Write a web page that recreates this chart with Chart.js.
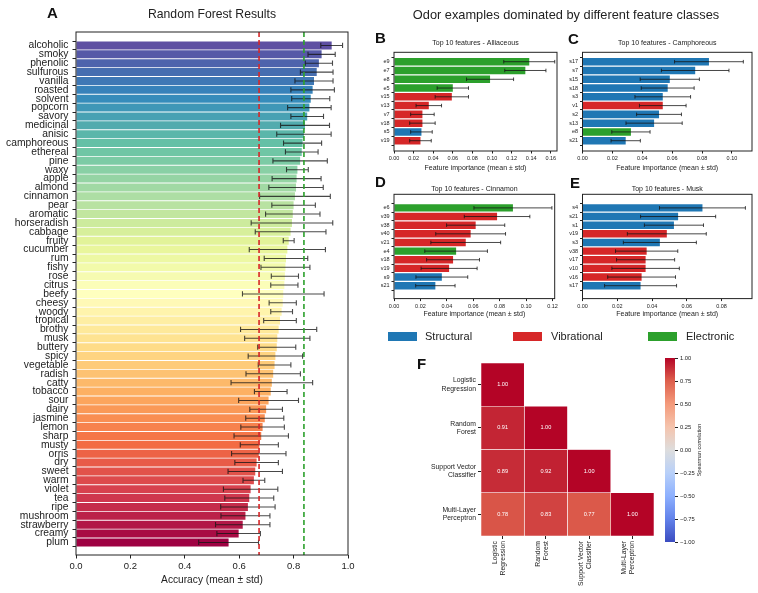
<!DOCTYPE html>
<html>
<head>
<meta charset="utf-8">
<script src="https://cdn.jsdelivr.net/npm/chart.js@4.4.1/dist/chart.umd.min.js"></script>
<style>
  body { margin: 0; background: #fff; }
  #fig { position: relative; width: 758px; height: 593px; overflow: hidden; background: #fff;
         font-family: "Liberation Sans", Arial, sans-serif; color: #222; }
  canvas { position: absolute; }
  .letter { position: absolute; font-weight: bold; font-size: 15px; line-height: 1; color: #111; }
  .sup { position: absolute; font-size: 12.8px; line-height: 1; white-space: nowrap; }
  .patch { position: absolute; width: 29px; height: 9px; }
  .ltxt { position: absolute; font-size: 11px; line-height: 1; white-space: nowrap; }
</style>
</head>
<body>
<div id="fig">
  <canvas id="cA" width="358" height="593" style="left:0;top:0"></canvas>
  <canvas id="cB" width="200" height="141" style="left:360px;top:34px"></canvas>
  <canvas id="cC" width="203" height="141" style="left:555px;top:34px"></canvas>
  <canvas id="cD" width="200" height="143" style="left:360px;top:178px"></canvas>
  <canvas id="cE" width="203" height="143" style="left:555px;top:178px"></canvas>
  <canvas id="cF" width="280" height="243" style="left:380px;top:350px"></canvas>
  <canvas id="cBar" width="98" height="253" style="left:660px;top:340px"></canvas>

  <div class="letter" style="left:47px;top:4.7px">A</div>
  <div class="letter" style="left:375px;top:29.7px">B</div>
  <div class="letter" style="left:568px;top:30.7px">C</div>
  <div class="letter" style="left:375px;top:174px">D</div>
  <div class="letter" style="left:570px;top:174.7px">E</div>
  <div class="letter" style="left:417px;top:356.3px">F</div>

  <div class="sup" style="left:566px;top:8.5px;transform:translateX(-50%)">Odor examples dominated by different feature classes</div>

  <div class="patch" style="left:388px;top:331.7px;background:#1f77b4"></div>
  <div class="ltxt" style="left:425px;top:330.6px">Structural</div>
  <div class="patch" style="left:513px;top:331.7px;background:#d62728"></div>
  <div class="ltxt" style="left:551px;top:330.6px">Vibrational</div>
  <div class="patch" style="left:648px;top:331.7px;background:#2ca02c"></div>
  <div class="ltxt" style="left:686px;top:330.6px">Electronic</div>
</div>

<script>
// ---- Panel A : accuracy per odor (Random Forest) ----
var odors = ['alcoholic','smoky','phenolic','sulfurous','vanilla','roasted','solvent','popcorn','savory',
  'medicinal','anisic','camphoreous','ethereal','pine','waxy','apple','almond','cinnamon','pear','aromatic',
  'horseradish','cabbage','fruity','cucumber','rum','fishy','rose','citrus','beefy','cheesy','woody',
  'tropical','brothy','musk','buttery','spicy','vegetable','radish','catty','tobacco','sour','dairy',
  'jasmine','lemon','sharp','musty','orris','dry','sweet','warm','violet','tea','ripe','mushroom',
  'strawberry','creamy','plum'];
var rfMean = [0.94,0.903,0.893,0.885,0.875,0.87,0.863,0.858,0.85,0.842,0.838,0.833,0.83,0.824,0.814,0.811,
  0.809,0.805,0.80,0.797,0.794,0.789,0.782,0.777,0.772,0.77,0.768,0.766,0.762,0.76,0.756,0.75,0.745,0.74,
  0.738,0.733,0.73,0.725,0.72,0.716,0.708,0.699,0.694,0.686,0.681,0.674,0.672,0.664,0.659,0.654,0.642,
  0.637,0.632,0.623,0.613,0.598,0.561];
var rfStd = [0.04,0.05,0.05,0.06,0.07,0.08,0.07,0.08,0.06,0.09,0.1,0.07,0.06,0.1,0.04,0.09,0.1,0.13,0.08,0.1,
  0.15,0.13,0.02,0.14,0.08,0.09,0.05,0.05,0.15,0.05,0.04,0.06,0.14,0.12,0.07,0.1,0.06,0.1,0.15,0.06,
  0.11,0.06,0.07,0.08,0.1,0.07,0.1,0.08,0.1,0.04,0.1,0.09,0.1,0.09,0.1,0.08,0.11];
var redLine = 0.673;    // red dashed reference
var greenLine = 0.838;  // green dashed reference
var accTicks = [0, 0.2, 0.4, 0.6, 0.8, 1.0];

// ---- Panels B-E : top 10 features per odor ----
var alliFeat = ['e9','e7','e8','e5','v15','v13','v7','v18','s5','v19'];
var alliMean = [0.138,0.134,0.098,0.060,0.059,0.0355,0.029,0.029,0.028,0.027];
var alliStd  = [0.026,0.021,0.024,0.016,0.017,0.013,0.012,0.013,0.011,0.011];

var campFeat = ['s17','s7','s15','s18','s3','v1','s2','s13','e8','s21'];
var campMean = [0.0846,0.0754,0.0584,0.057,0.0537,0.0537,0.0512,0.0479,0.0324,0.0289];
var campStd  = [0.023,0.0226,0.0198,0.0177,0.0186,0.0156,0.015,0.0188,0.0128,0.0098];

var cinnFeat = ['e6','v39','v38','v40','v21','e4','v18','v19','s9','s21'];
var cinnMean = [0.090,0.078,0.0618,0.058,0.0543,0.047,0.0447,0.0417,0.0362,0.0313];
var cinnStd  = [0.0295,0.0248,0.022,0.0264,0.0264,0.0237,0.02,0.0212,0.0196,0.0149];

var muskFeat = ['s4','s21','s1','v19','s3','v38','v17','v10','v16','s17'];
var muskMean = [0.069,0.055,0.0526,0.0485,0.0445,0.0369,0.0363,0.0363,0.034,0.0334];
var muskStd  = [0.0247,0.0216,0.017,0.0227,0.021,0.0179,0.0167,0.0194,0.0195,0.0207];

// feature class colours (s = structural, v = vibrational, e = electronic)
var classColors = { s: '#1f77b4', v: '#d62728', e: '#2ca02c' };

// ---- Panel F : Spearman correlation between models (lower triangle) ----
var modelNames = [['Logistic','Regression'],['Random','Forest'],['Support Vector','Classifier'],['Multi-Layer','Perceptron']];
var corrRows = [[1.00],[0.91,1.00],[0.89,0.92,1.00],[0.78,0.83,0.77,1.00]];

Chart.defaults.font.family = '"Liberation Sans", Arial, sans-serif';
Chart.defaults.color = '#222';
Chart.defaults.animation = false;
Chart.defaults.events = [];
Chart.defaults.plugins.legend.display = false;
Chart.defaults.plugins.tooltip.enabled = false;

var spectral = ['#9e0142','#d53e4f','#f46d43','#fdae61','#fee08b','#ffffbf','#e6f598','#abdda4','#66c2a5','#3288bd','#5e4fa2'];
var coolwarm = ['#3b4cc0','#6282ea','#8db0fe','#b8d0f9','#dddddd','#f5c4ad','#f49a7b','#de604d','#b40426'];

function hexRgb(h) { return [1,3,5].map(function(k){ return parseInt(h.substr(k,2),16); }); }
function cmap(stops, t) {
  t = Math.max(0, Math.min(1, t));
  var n = stops.length - 1, p = t * n, k = Math.min(Math.floor(p), n - 1), f = p - k;
  var a = hexRgb(stops[k]), b = hexRgb(stops[k+1]);
  return 'rgb(' + a.map(function(c, j){ return Math.round(c + (b[j] - c) * f); }).join(',') + ')';
}

// frame around the plot area (matplotlib spines)
function framePlugin() {
  return { id: 'frame', afterDatasetsDraw: function(chart) {
    var c = chart.chartArea, ctx = chart.ctx;
    ctx.save(); ctx.strokeStyle = '#222'; ctx.lineWidth = 1;
    ctx.strokeRect(c.left, c.top, c.right - c.left, c.bottom - c.top);
    ctx.restore();
  }};
}

// horizontal error bars from dataset.stdDev
function errorPlugin(cap, width) {
  return { id: 'errbars', afterDatasetsDraw: function(chart) {
    var ctx = chart.ctx, xs = chart.scales.x;
    chart.data.datasets.forEach(function(ds, di) {
      if (!ds.stdDev) return;
      chart.getDatasetMeta(di).data.forEach(function(bar, i) {
        var v = ds.data[i].x, s = ds.stdDev[i];
        var x0 = xs.getPixelForValue(v - s), x1 = xs.getPixelForValue(v + s), y = bar.y;
        ctx.save();
        ctx.strokeStyle = 'rgba(20,20,20,0.78)'; ctx.lineWidth = width;
        ctx.beginPath();
        ctx.moveTo(x0, y); ctx.lineTo(x1, y);
        ctx.moveTo(x0, y - cap); ctx.lineTo(x0, y + cap);
        ctx.moveTo(x1, y - cap); ctx.lineTo(x1, y + cap);
        ctx.stroke();
        ctx.restore();
      });
    });
  }};
}

// ---------- Panel A ----------
new Chart(document.getElementById('cA'), {
  type: 'bar',
  data: {
    datasets: [{
      data: rfMean.map(function(v, i){ return { x: v, y: i }; }),
      stdDev: rfStd,
      backgroundColor: rfMean.map(function(v, i){ return cmap(spectral, 1 - i / (rfMean.length - 1)); }),
      barPercentage: 0.9, categoryPercentage: 1
    }]
  },
  options: {
    responsive: false, devicePixelRatio: 1, indexAxis: 'y',
    layout: { padding: { left: 0, right: 10, top: 0, bottom: 0 } },
    plugins: {
      title: { display: true, text: 'Random Forest Results', fullSize: false,
               font: { size: 12.2, weight: 'normal' }, color: '#222', padding: { top: 7.7, bottom: 9.66 } }
    },
    scales: {
      x: {
        type: 'linear', min: 0, max: 1,
        afterBuildTicks: function(s){ s.ticks = accTicks.map(function(v){ return { value: v }; }); },
        ticks: { font: { size: 9.5 }, padding: 2, callback: function(v){ return v.toFixed(1); } },
        grid: { drawOnChartArea: false, tickLength: 3.5, color: '#222' },
        border: { display: false },
        title: { display: true, text: 'Accuracy (mean ± std)', font: { size: 10.2 }, padding: { top: 0, bottom: 7 } },
        afterFit: function(s){ s.height = 38; }
      },
      y: {
        type: 'linear', min: -1.0, max: 56.9, reverse: true,
        afterBuildTicks: function(s){ s.ticks = odors.map(function(o, i){ return { value: i }; }); },
        ticks: { autoSkip: false, font: { size: 10.3 }, padding: 4, color: '#222',
                 callback: function(v){ return odors[v]; } },
        grid: { drawOnChartArea: false, tickLength: 3.5, color: '#222' },
        border: { display: false },
        afterFit: function(s){ s.width = 76; }
      }
    }
  },
  plugins: [errorPlugin(2.6, 1.1), {
    id: 'refLines', afterDatasetsDraw: function(chart) {
      var ctx = chart.ctx, xs = chart.scales.x, c = chart.chartArea;
      [[redLine, '#d62728'], [greenLine, '#2ca02c']].forEach(function(l) {
        var x = xs.getPixelForValue(l[0]);
        ctx.save(); ctx.strokeStyle = l[1]; ctx.lineWidth = 1.6; ctx.setLineDash([5, 3]);
        ctx.beginPath(); ctx.moveTo(x, c.top); ctx.lineTo(x, c.bottom); ctx.stroke(); ctx.restore();
      });
    }
  }, framePlugin()]
});

// ---------- Panels B-E ----------
function featurePanel(id, title, feats, means, stds, xMax, yMin, yMax, axisW, padR, titlePad, xAxisH) {
  return new Chart(document.getElementById(id), {
    type: 'bar',
    data: {
      datasets: [{
        data: means.map(function(v, i){ return { x: v, y: i }; }),
        stdDev: stds,
        backgroundColor: feats.map(function(f){ return classColors[f[0]]; }),
        barPercentage: 0.86, categoryPercentage: 1
      }]
    },
    options: {
      responsive: false, devicePixelRatio: 1, indexAxis: 'y',
      layout: { padding: { left: 0, right: padR, top: 0, bottom: 0 } },
      plugins: {
        title: { display: true, text: title, fullSize: false, font: { size: 7, weight: 'normal' },
                 color: '#222', padding: titlePad }
      },
      scales: {
        x: {
          type: 'linear', min: 0, max: xMax,
          ticks: { stepSize: 0.02, includeBounds: false, font: { size: 5.5 }, padding: 2,
                   callback: function(v){ return v.toFixed(2); } },
          grid: { drawOnChartArea: false, tickLength: 2.5, color: '#222' },
          border: { display: false },
          title: { display: true, text: 'Feature importance (mean ± std)', font: { size: 7 },
                   padding: { top: 0, bottom: 2.8 } },
          afterFit: function(s){ s.height = xAxisH; }
        },
        y: {
          type: 'linear', min: yMin, max: yMax, reverse: true,
          afterBuildTicks: function(s){ s.ticks = feats.map(function(f, i){ return { value: i }; }); },
          ticks: { autoSkip: false, font: { size: 5.5 }, padding: 2, callback: function(v){ return feats[v]; } },
          grid: { drawOnChartArea: false, tickLength: 2.5, color: '#222' },
          border: { display: false },
          afterFit: function(s){ s.width = axisW; }
        }
      }
    },
    plugins: [errorPlugin(1.8, 1), framePlugin()]
  });
}

featurePanel('cB', 'Top 10 features - Alliaceous', alliFeat, alliMean, alliStd, 0.1663, -0.51, 9.61, 34, 3,
             { top: 5.1, bottom: 4.8 }, 24);
featurePanel('cC', 'Top 10 features - Camphoreous', campFeat, campMean, campStd, 0.1134, -0.51, 9.61, 27.5, 6,
             { top: 5.1, bottom: 4.8 }, 24);
featurePanel('cD', 'Top 10 features - Cinnamon', cinnFeat, cinnMean, cinnStd, 0.1216, -0.97, 9.89, 34, 3,
             { top: 7.1, bottom: 0.8 }, 22.4);
featurePanel('cE', 'Top 10 features - Musk', muskFeat, muskMean, muskStd, 0.0975, -0.97, 9.89, 27.5, 6,
             { top: 7.1, bottom: 0.8 }, 22.4);

// ---------- Panel F : heatmap ----------
var hmDatasets = modelNames.map(function(m, j) {
  return {
    data: modelNames.map(function(r, i){ return i >= j ? [j, j + 1] : null; }),
    backgroundColor: modelNames.map(function(r, i){ return i >= j ? cmap(coolwarm, (corrRows[i][j] + 1) / 2) : 'rgba(0,0,0,0)'; }),
    borderColor: '#fff', borderWidth: 0.6, borderSkipped: false,
    barPercentage: 1, categoryPercentage: 1, grouped: false
  };
});

new Chart(document.getElementById('cF'), {
  type: 'bar',
  data: { labels: modelNames, datasets: hmDatasets },
  options: {
    responsive: false, devicePixelRatio: 1, indexAxis: 'y',
    layout: { padding: { left: 0, right: 6, top: 13, bottom: 0 } },
    scales: {
      x: {
        type: 'linear', min: 0, max: 4,
        afterBuildTicks: function(s){ s.ticks = modelNames.map(function(m, j){ return { value: j + 0.5 }; }); },
        ticks: { autoSkip: false, minRotation: 90, maxRotation: 90, font: { size: 6.8 }, padding: 2,
                 labelOffset: -8, callback: function(v, idx){ return modelNames[idx]; } },
        grid: { drawOnChartArea: false, tickLength: 3, color: '#222' },
        border: { display: false },
        afterFit: function(s){ s.height = 57; }
      },
      y: {
        type: 'category',
        ticks: { font: { size: 6.8 }, padding: 2 },
        grid: { drawOnChartArea: false, tickLength: 3, color: '#222', offset: false },
        border: { display: false },
        afterFit: function(s){ s.width = 101; }
      }
    }
  },
  plugins: [{
    id: 'cellText', afterDatasetsDraw: function(chart) {
      var ctx = chart.ctx;
      ctx.save();
      ctx.fillStyle = '#fff'; ctx.font = '5.6px "Liberation Sans", Arial, sans-serif';
      ctx.textAlign = 'center'; ctx.textBaseline = 'middle';
      chart.data.datasets.forEach(function(ds, j) {
        chart.getDatasetMeta(j).data.forEach(function(el, i) {
          if (ds.data[i] === null) return;
          ctx.fillText(corrRows[i][j].toFixed(2), (el.x + el.base) / 2, el.y);
        });
      });
      ctx.restore();
    }
  }]
});

// ---------- colour bar ----------
new Chart(document.getElementById('cBar'), {
  type: 'bar',
  data: {
    labels: ['r'],
    datasets: [{
      data: [[-1, 1]],
      barPercentage: 1, categoryPercentage: 1,
      backgroundColor: function(c) {
        var area = c.chart.chartArea;
        if (!area) return '#ddd';
        var g = c.chart.ctx.createLinearGradient(0, area.bottom, 0, area.top);
        coolwarm.forEach(function(col, k){ g.addColorStop(k / (coolwarm.length - 1), col); });
        return g;
      }
    }]
  },
  options: {
    responsive: false, devicePixelRatio: 1,
    layout: { padding: { left: 5, right: 0, top: 18, bottom: 51 } },
    scales: {
      x: { display: false },
      y: {
        position: 'right', min: -1, max: 1,
        ticks: { stepSize: 0.25, font: { size: 5.8 }, padding: 2,
                 callback: function(v){ return (v < 0 ? '\u2212' : '') + Math.abs(v).toFixed(2); } },
        grid: { drawOnChartArea: false, tickLength: 3, color: '#222' },
        border: { display: false },
        afterFit: function(s){ s.width = 83; }
      }
    }
  },
  plugins: [{
    id: 'cbLabel', afterDraw: function(chart) {
      var ctx = chart.ctx;
      ctx.save();
      ctx.translate(39, 110); ctx.rotate(-Math.PI / 2);
      ctx.fillStyle = '#222'; ctx.font = '5.5px "Liberation Sans", Arial, sans-serif';
      ctx.textAlign = 'center'; ctx.textBaseline = 'middle';
      ctx.fillText('Spearman correlation', 0, 0);
      ctx.restore();
    }
  }]
});
</script>
</body>
</html>
